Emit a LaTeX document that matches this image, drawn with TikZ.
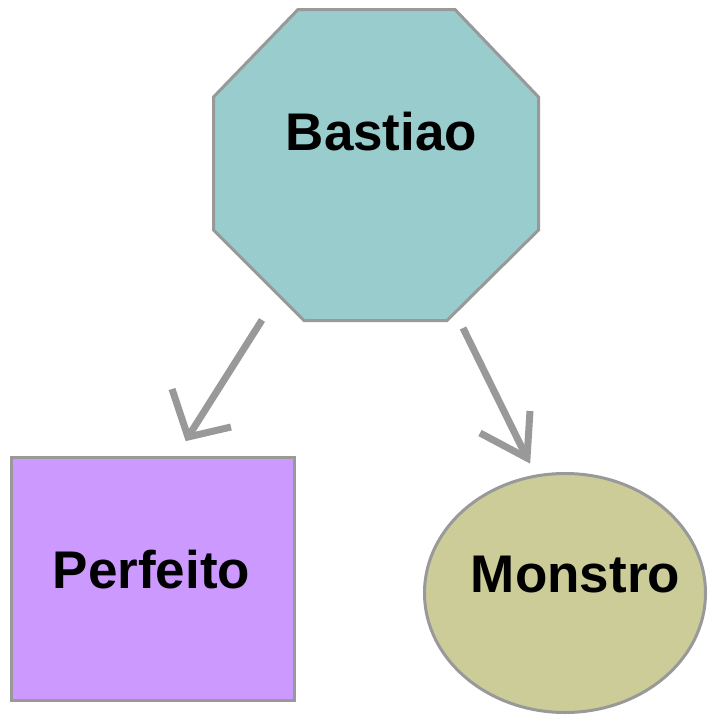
\documentclass[tikz,border=0pt]{standalone}
\usepackage{fontspec}
\setmainfont{Liberation Sans}
\begin{document}
\begin{tikzpicture}[x=1pt,y=-1pt,
  shapeline/.style={draw=gray99, line width=3pt},
  lbl/.style={anchor=base, inner sep=0pt, font=\fontsize{53}{60}\selectfont\bfseries, text=black},
  arrowline/.style={draw=gray99, line width=7pt, line cap=butt, line join=miter}]
\definecolor{gray99}{HTML}{999999}
\definecolor{tealfill}{HTML}{99CCCC}
\definecolor{purplefill}{HTML}{CC99FF}
\definecolor{olivefill}{HTML}{CCCC99}
\useasboundingbox[fill=white] (0,0) rectangle (710,715);
% octagon
\draw[shapeline, fill=tealfill] (298,9.5) -- (455,9.5) -- (538.5,97) -- (538.5,230) -- (447,320.5) -- (304,320.5) -- (213.5,230) -- (213.5,97) -- cycle;
\node[lbl] (bastiao) at (381.5,150) {Bastiao};
% rectangle
\node[shapeline, fill=purplefill, rectangle, minimum width=283pt, minimum height=243pt, inner sep=0pt] (perfeitobox) at (153,579) {};
\node[lbl] (perfeito) at (151.5,588) {Perfeito};
% ellipse
\draw[shapeline, fill=olivefill] (565,593) ellipse [x radius=140.5, y radius=119.5];
\coordinate (monstrocenter) at (565,593);
\node[lbl] (monstro) at (575.5,592) {Monstro};
% left arrow
\coordinate (la) at (262,320);
\coordinate (lt) at (188,437);
\coordinate (lw1) at (172,389);
\coordinate (lw2) at (231,427);
\draw[arrowline] (la) -- (lt);
\draw[arrowline] (lw1) -- (lt) -- (lw2);
% right arrow
\coordinate (ra) at (463,328);
\coordinate (rt) at (527,458);
\coordinate (rw1) at (480,433);
\coordinate (rw2) at (530,411);
\draw[arrowline] (ra) -- (rt);
\draw[arrowline] (rw1) -- (rt) -- (rw2);
\end{tikzpicture}
\end{document}
